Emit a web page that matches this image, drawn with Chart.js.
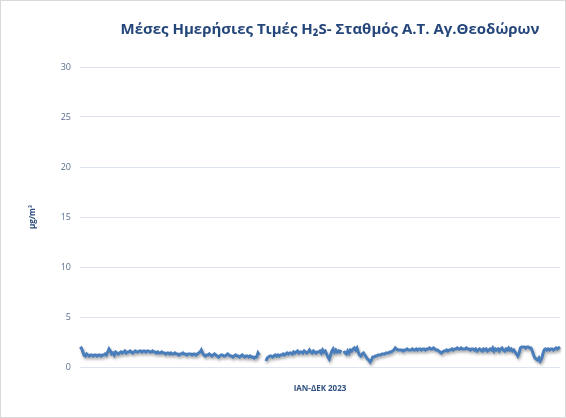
<!DOCTYPE html>
<html>
<head>
<meta charset="utf-8">
<script src="https://cdn.jsdelivr.net/npm/chart.js@4/dist/chart.umd.min.js"></script>
<style>
  body { margin: 0; background: #fff; }
  #wrap { width: 566px; height: 418px; box-sizing: border-box; border: 1px solid #d9d9d9; }
</style>
</head>
<body>
<div id="wrap"><canvas id="h2sChart" width="564" height="416"></canvas></div>
<script>
// DATA - daily means 2023 (null = missing day)
const jan = [1.8,1.9,1.6,1.2,1.1,1.3,1.2,1.1,1.2,1.2,1.1,1.2,1.2,1.1,1.2,1.2,1.1,1.2,1.2,1.3,1.2,1.5,1.8,1.6,1.3,1.4,1.2,1.5,1.4,1.3,1.4];
const feb = [1.5,1.4,1.5,1.6,1.4,1.5,1.5,1.6,1.5,1.4,1.5,1.6,1.5,1.5,1.6,1.6,1.5,1.6,1.6,1.5,1.6,1.6,1.5,1.5,1.6,1.5,1.5,1.4];
const mar = [1.5,1.4,1.4,1.5,1.4,1.4,1.3,1.4,1.4,1.3,1.4,1.3,1.3,1.4,1.3,1.3,1.2,1.3,1.3,1.4,1.3,1.3,1.2,1.3,1.3,1.3,1.2,1.3,1.3,1.2,1.3];
const apr = [1.4,1.5,1.7,1.4,1.2,1.1,1.2,1.2,1.3,1.2,1.1,1.2,1.3,1.2,1.1,1.0,1.1,1.2,1.2,1.1,1.1,1.2,1.3,1.2,1.1,1.1,1.0,1.1,1.2,1.1];
const may = [1.1,1.0,1.1,1.2,1.1,1.0,1.1,1.1,1.0,1.1,1.0,1.0,0.9,1.0,1.0,1.4,1.2,null,null,null,null,0.6,0.9,1.0,1.1,1.1,1.0,1.1,1.2,1.1,1.2];
const jun = [1.1,1.2,1.2,1.3,1.2,1.3,1.4,1.3,1.4,1.4,1.3,1.5,1.4,1.5,1.6,1.4,1.5,1.5,1.4,1.6,1.5,1.4,1.5,1.7,1.5,1.4,1.6,1.5,1.4,1.5];
const jul = [1.5,1.6,1.4,1.7,1.5,1.6,1.3,1.0,0.8,1.2,1.6,1.8,1.5,1.7,1.5,1.6,1.5,1.7,null,1.6,1.4,1.3,1.6,1.4,1.7,1.6,1.8,1.9,1.7,1.9,1.5];
const aug = [1.2,1.1,1.3,1.4,1.2,1.0,0.8,0.7,0.5,0.7,1.0,1.0,1.1,1.1,1.2,1.2,1.2,1.3,1.3,1.3,1.4,1.4,1.4,1.5,1.5,1.6,1.7,1.9,1.8,1.7,1.7];
const sep = [1.7,1.7,1.6,1.7,1.7,1.8,1.7,1.7,1.7,1.8,1.7,1.7,1.8,1.7,1.8,1.8,1.7,1.8,1.8,1.7,1.8,1.8,1.9,1.8,1.8,1.9,1.8,1.7,1.7,1.6];
const oct = [1.5,1.4,1.5,1.6,1.6,1.7,1.6,1.7,1.7,1.8,1.7,1.8,1.8,1.9,1.8,1.8,1.9,1.8,1.8,1.8,1.9,1.8,1.8,1.7,1.8,1.8,1.7,1.8,1.6,1.7,1.8];
const nov = [1.7,1.6,1.8,1.7,1.8,1.6,1.7,1.8,1.7,1.9,1.6,1.8,1.7,1.8,1.6,1.8,1.9,1.7,1.6,1.8,1.7,1.9,1.7,1.8,1.6,1.7,1.5,1.3,1.1,1.4];
const dec = [1.9,2.0,2.0,2.0,1.9,2.0,2.0,1.9,1.9,1.6,1.2,0.9,0.8,0.7,0.9,0.6,0.8,1.3,1.7,1.8,1.7,1.8,1.7,1.8,1.8,1.7,1.8,1.9,1.8,1.9,2.0];

const values = [].concat(jan, feb, mar, apr, may, jun, jul, aug, sep, oct, nov, dec);
// one label per day of 2023
const days = values.map((v, i) => {
  const d = new Date(2023, 0, 1 + i);
  return d.getDate() + "/" + (d.getMonth() + 1);
});
const yTicks = [0, 5, 10, 15, 20, 25, 30];
const chartTitle = "Μέσες Ημερήσιες Τιμές H₂S- Σταθμός Α.Τ. Αγ.Θεοδώρων";

// soft shadow under the line, like the excel original
const lineShadow = {
  id: "lineShadow",
  beforeDatasetDraw(chart) {
    const c = chart.ctx;
    c.save();
    c.shadowColor = "rgba(0, 0, 0, 0.35)";
    c.shadowBlur = 3;
    c.shadowOffsetX = 1;
    c.shadowOffsetY = 2;
  },
  afterDatasetDraw(chart) {
    chart.ctx.restore();
  },
};

// title sits a bit right of centre in the original, so draw it here
const topTitle = {
  id: "topTitle",
  afterDraw(chart) {
    const c = chart.ctx;
    c.save();
    c.font = "bold 15px 'Open Sans'";
    c.fillStyle = "#24467a";
    c.textAlign = "center";
    c.textBaseline = "middle";
    c.fillText(chartTitle, 329, 29);
    c.restore();
  },
};

const ctx = document.getElementById("h2sChart").getContext("2d");

new Chart(ctx, {
  type: "line",
  data: {
    labels: days,
    datasets: [
      {
        label: "H2S",
        data: values,
        borderColor: "#4a7ebb",
        borderWidth: 3,
        pointRadius: 0,
        tension: 0,
        spanGaps: false,
      },
    ],
  },
  options: {
    responsive: false,
    animation: false,
    layout: { padding: { left: 0, right: 5, top: 66, bottom: 0 } },
    scales: {
      x: {
        offset: false,
        grid: { display: false },
        border: { display: false },
        ticks: { display: false },
        title: {
          display: true,
          text: "ΙΑΝ-ΔΕΚ 2023",
          color: "#2f4f7f",
          font: { family: "Open Sans", size: 8, weight: "bold" },
          padding: { top: 4, bottom: 23 },
        },
        afterFit(scale) {
          scale.height = 50;
        },
      },
      y: {
        min: 0,
        max: 30,
        afterBuildTicks(scale) {
          scale.ticks = yTicks.map((v) => ({ value: v }));
        },
        grid: { color: "#dde4ef", drawTicks: false },
        border: { display: false },
        ticks: {
          color: "#5b6e8c",
          padding: 9,
          font: { family: "Open Sans", size: 9 },
        },
        title: {
          display: true,
          text: "μg/m³",
          color: "#2f4f7f",
          font: { family: "Open Sans", size: 8, weight: "bold" },
          padding: { top: 27, bottom: 0 },
        },
        afterFit(scale) {
          scale.width = 79;
        },
      },
    },
    plugins: {
      legend: { display: false },
      tooltip: { enabled: false },
    },
  },
  plugins: [lineShadow, topTitle],
});
</script>
</body>
</html>
